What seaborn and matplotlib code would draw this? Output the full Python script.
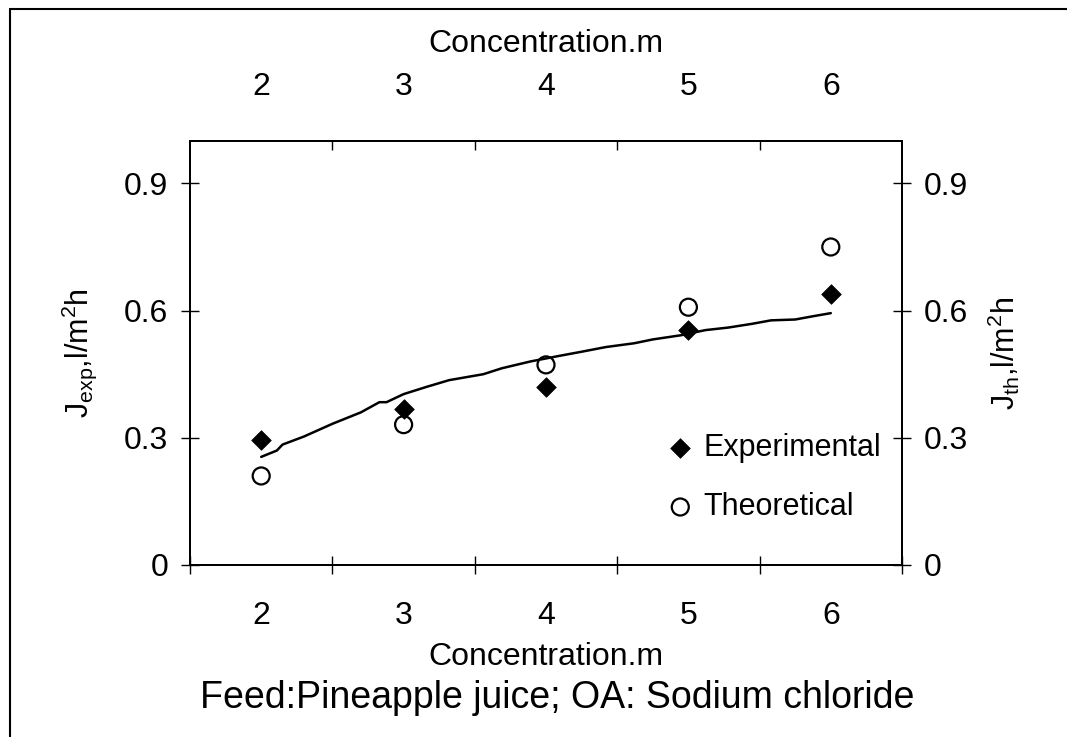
import matplotlib
matplotlib.use("Agg")
import matplotlib.pyplot as plt
import seaborn as sns
from matplotlib.lines import Line2D

# ---- data ----
concentration = [2, 3, 4, 5, 6]
j_experimental = [0.294, 0.368, 0.419, 0.554, 0.638]
j_theoretical = [0.210, 0.331, 0.472, 0.608, 0.750]
fit_concentration = [2.0, 2.11, 2.15, 2.3, 2.5, 2.7, 2.83, 2.88, 3.0, 3.16, 3.32, 3.56,
                     3.69, 3.89, 4.09, 4.25, 4.42, 4.62, 4.75, 4.95, 5.12, 5.28, 5.45,
                     5.58, 5.75, 5.88, 6.0]
fit_flux = [0.255, 0.270, 0.284, 0.303, 0.333, 0.360, 0.384, 0.384, 0.403, 0.420, 0.436,
            0.450, 0.464, 0.480, 0.493, 0.503, 0.514, 0.523, 0.532, 0.542, 0.554, 0.560,
            0.569, 0.577, 0.579, 0.587, 0.594]
x_tick_labels = ["2", "3", "4", "5", "6"]
x_boundaries = [1.5, 2.5, 3.5, 4.5, 5.5, 6.5]
y_ticks = [0, 0.3, 0.6, 0.9]
y_tick_labels = ["0", "0.3", "0.6", "0.9"]

sns.set_style("white")
plt.rcParams["font.family"] = ["Liberation Sans", "DejaVu Sans"]
plt.rcParams["mathtext.default"] = "regular"
for key in ("text.color", "axes.labelcolor", "xtick.color", "ytick.color",
            "xtick.labelcolor", "ytick.labelcolor", "axes.edgecolor"):
    plt.rcParams[key] = "black"

W, H = 1067, 737
fig = plt.figure(figsize=(W / 100, H / 100), dpi=100)
L, R, T, B = 190, 902, 141, 565
ax = fig.add_axes([L / W, 1 - B / H, (R - L) / W, (B - T) / H])

sns.lineplot(x=fit_concentration, y=fit_flux, ax=ax, color="black", linewidth=1.8,
             sort=False, estimator=None, legend=False, zorder=2)
sns.scatterplot(x=concentration, y=j_experimental, ax=ax, marker="D", s=100,
                color="black", edgecolor="black", linewidth=0.5,
                label="Experimental", zorder=3)
sns.scatterplot(x=concentration, y=j_theoretical, ax=ax, marker="o", s=150,
                facecolor="none", edgecolor="black", linewidth=1.6,
                label="Theoretical", zorder=3)

ax.set_xlim(1.5, 6.5)
ax.set_ylim(0, 1.0)

# bottom axis
ax.set_xticks(x_boundaries)
ax.set_xticklabels([])
ax.set_xticks(concentration, labels=x_tick_labels, minor=True)
ax.tick_params(axis="x", which="major", direction="inout", length=13, width=1,
               color="black", bottom=True)
ax.tick_params(axis="x", which="minor", length=0, pad=26, labelsize=23)
ax.set_xlabel("Concentration.m", fontsize=23)
ax.xaxis.set_label_coords(0.5, (B - 642) / (B - T))

# left axis
ax.set_yticks(y_ticks, labels=y_tick_labels)
ax.tick_params(axis="y", direction="inout", length=13, width=1, pad=9,
               labelsize=23, color="black", left=True)
ax.set_ylabel(r"J$_{exp}$,l/m$^{2}$h", fontsize=22)
ax.yaxis.set_label_coords((99 - L) / (R - L), 0.5)

# right axis
axr = ax.twinx()
axr.set_ylim(0, 1.0)
axr.set_yticks(y_ticks, labels=y_tick_labels)
axr.tick_params(axis="y", direction="inout", length=13, width=1, pad=9,
                labelsize=23, color="black", right=True)
axr.set_ylabel(r"J$_{th}$,l/m$^{2}$h", fontsize=22)
axr.yaxis.set_label_coords((986 - L) / (R - L), 0.5)

# top axis
axt = ax.twiny()
axt.set_xlim(1.5, 6.5)
axt.set_xticks(x_boundaries[1:-1])
axt.set_xticklabels([])
axt.set_xticks(concentration, labels=x_tick_labels, minor=True)
axt.tick_params(axis="x", which="major", direction="in", length=6.5, width=1,
                color="black", top=True)
axt.tick_params(axis="x", which="minor", length=0, pad=28, labelsize=23)
axt.set_xlabel("Concentration.m", fontsize=23)
axt.xaxis.set_label_coords(0.5, (B - 52) / (B - T))

for a in (ax, axr, axt):
    for s in a.spines.values():
        s.set_visible(True)
        s.set_color("black")
        s.set_linewidth(1.2)

# legend (markers only, no frame)
handles, labels = ax.get_legend_handles_labels()
ax.legend(handles, labels, loc="upper left",
          bbox_to_anchor=((665 - L) / (R - L), (B - 433) / (B - T)),
          frameon=False, fontsize=22, handlelength=1.0, handletextpad=0.25,
          labelspacing=0.95, borderpad=0, borderaxespad=0)

fig.text(557 / W, 1 - 680 / H, "Feed:Pineapple juice; OA: Sodium chloride",
         ha="center", va="top", fontsize=27)

# partial frame around the picture (top and left edges)
fig.add_artist(Line2D([10 / W, 1.0], [1 - 9 / H, 1 - 9 / H], color="black", lw=1.5,
                      transform=fig.transFigure))
fig.add_artist(Line2D([10 / W, 10 / W], [0, 1 - 9 / H], color="black", lw=1.5,
                      transform=fig.transFigure))

fig.savefig("out.png", dpi=100)
